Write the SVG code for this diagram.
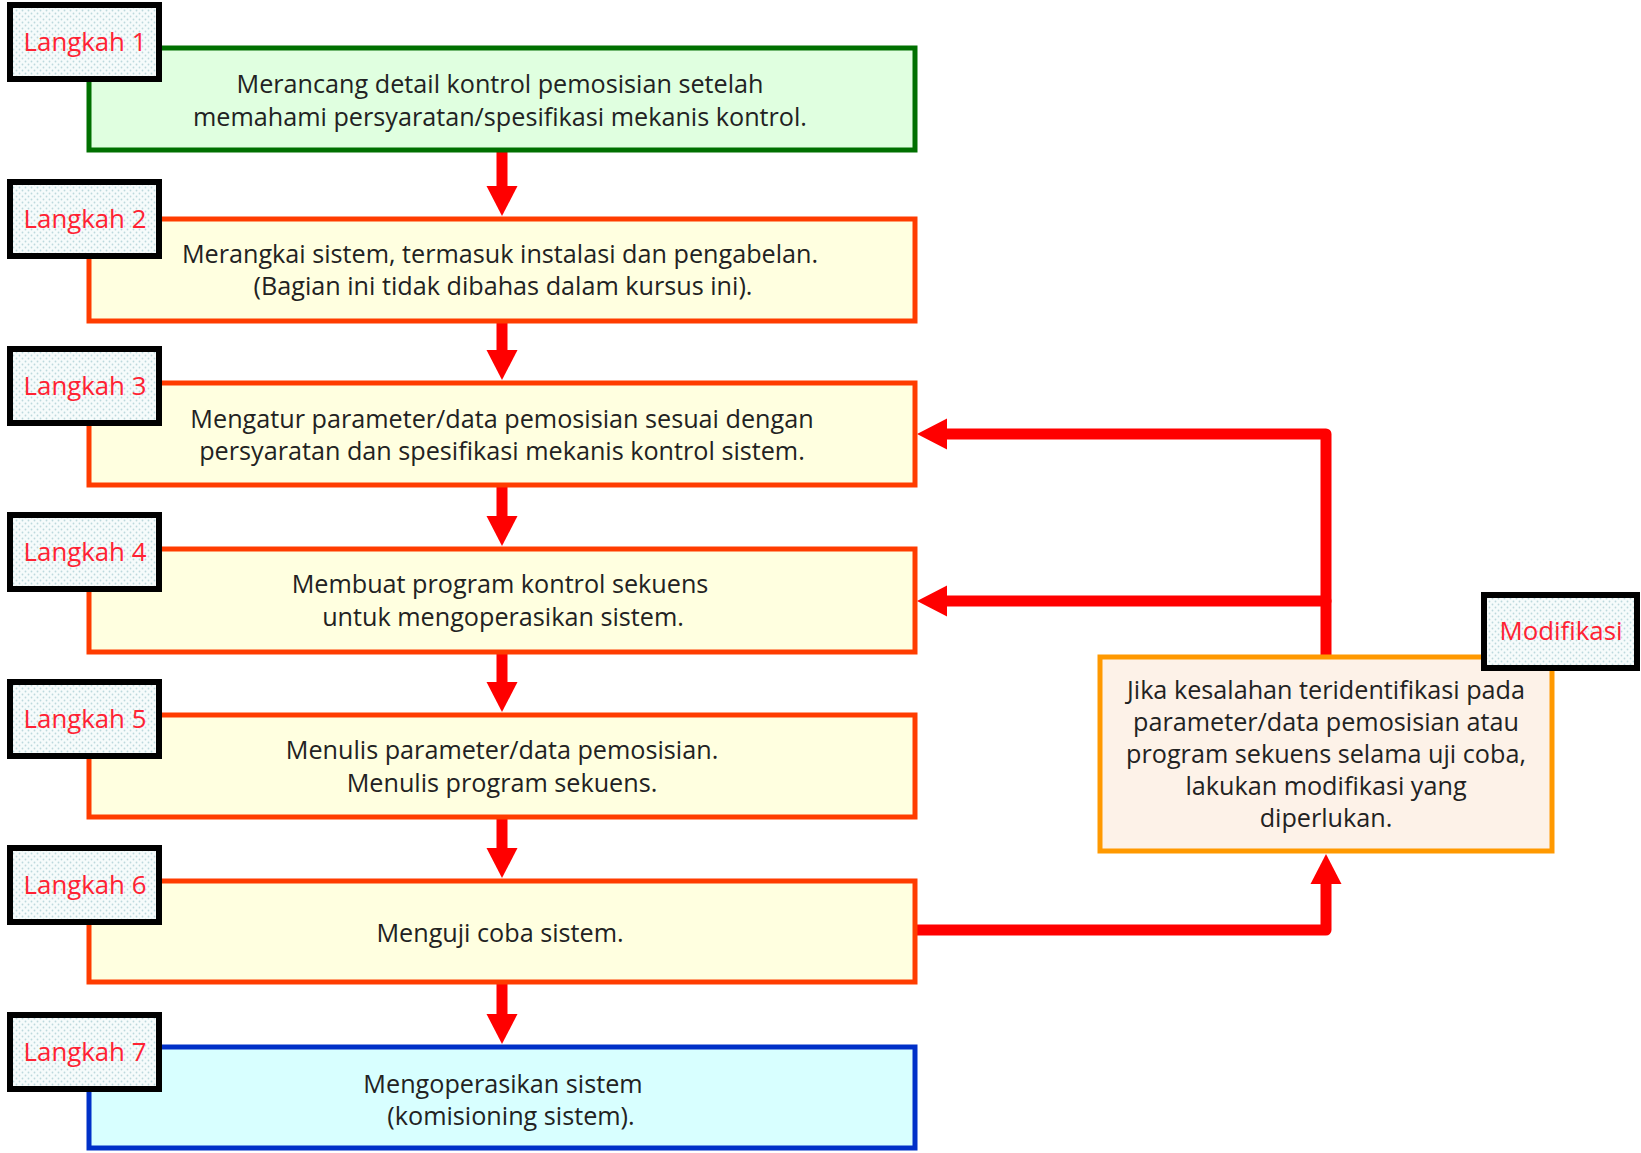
<svg xmlns="http://www.w3.org/2000/svg" width="1641" height="1153" viewBox="0 0 1641 1153">
<style>
  .box { stroke-width: 5; }
  .step { fill: #ffffe0; stroke: #ff3c00; }
  .first { fill: #e0ffe0; stroke: #007000; }
  .last { fill: #d8ffff; stroke: #0030c8; }
  .mod { fill: #fdf2e8; stroke: #ff9900; stroke-width: 5; }
  .tag { fill: url(#dots); stroke: #000; stroke-width: 6; }
  .tagtxt { font-family: "Open Sans", "Noto Sans", sans-serif; font-size: 25.8px; fill: #ff2233; text-anchor: middle; }
  .txt { font-family: "Open Sans", "Noto Sans", sans-serif; font-size: 25.2px; fill: #222; text-anchor: middle; }
  .conn { fill: none; stroke: #ff0000; stroke-width: 11; stroke-linecap: round; stroke-linejoin: round; marker-end: url(#ah); }
</style>
<defs>
  <pattern id="dots" width="6" height="6" patternUnits="userSpaceOnUse">
    <rect width="6" height="6" fill="#f6fbfb"/>
    <circle cx="1.5" cy="1.5" r="0.9" fill="#bcd9dd"/>
    <circle cx="4.5" cy="4.5" r="0.9" fill="#bcd9dd"/>
  </pattern>
  <marker id="ah" markerUnits="userSpaceOnUse" markerWidth="31" markerHeight="32" refX="0" refY="16" orient="auto">
    <path d="M0,0.5 L30,16 L0,31.5 Z" fill="#ff0000"/>
  </marker>
</defs>

<g id="connectors">
  <path class="conn" d="M502,152 V186"/>
  <path class="conn" d="M502,323 V350"/>
  <path class="conn" d="M502,487 V516"/>
  <path class="conn" d="M502,654 V682"/>
  <path class="conn" d="M502,819 V848"/>
  <path class="conn" d="M502,984 V1014"/>
  <path class="conn" d="M915,930 H1326 V884"/>
  <path class="conn" d="M1326,655 V434 H947"/>
  <path class="conn" d="M1326,601 H947"/>
</g>

<g id="step1">
  <rect class="box first" x="89" y="48" width="826" height="102"/>
  <text class="txt" x="500" y="93">Merancang detail kontrol pemosisian setelah</text>
  <text class="txt" x="500" y="126">memahami persyaratan/spesifikasi mekanis kontrol.</text>
  <rect class="tag" x="10" y="5" width="149" height="74"/>
  <text class="tagtxt" x="85" y="51">Langkah 1</text>
</g>

<g id="step2">
  <rect class="box step" x="89" y="219" width="826" height="102"/>
  <text class="txt" x="500" y="263">Merangkai sistem, termasuk instalasi dan pengabelan.</text>
  <text class="txt" x="503" y="295">(Bagian ini tidak dibahas dalam kursus ini).</text>
  <rect class="tag" x="10" y="182" width="149" height="74"/>
  <text class="tagtxt" x="85" y="228">Langkah 2</text>
</g>

<g id="step3">
  <rect class="box step" x="89" y="383" width="826" height="102"/>
  <text class="txt" x="502" y="428">Mengatur parameter/data pemosisian sesuai dengan</text>
  <text class="txt" x="502" y="460">persyaratan dan spesifikasi mekanis kontrol sistem.</text>
  <rect class="tag" x="10" y="349" width="149" height="74"/>
  <text class="tagtxt" x="85" y="395">Langkah 3</text>
</g>

<g id="step4">
  <rect class="box step" x="89" y="549" width="826" height="103"/>
  <text class="txt" x="500" y="593">Membuat program kontrol sekuens</text>
  <text class="txt" x="503" y="626">untuk mengoperasikan sistem.</text>
  <rect class="tag" x="10" y="515" width="149" height="74"/>
  <text class="tagtxt" x="85" y="561">Langkah 4</text>
</g>

<g id="step5">
  <rect class="box step" x="89" y="715" width="826" height="102"/>
  <text class="txt" x="502" y="759">Menulis parameter/data pemosisian.</text>
  <text class="txt" x="502" y="792">Menulis program sekuens.</text>
  <rect class="tag" x="10" y="682" width="149" height="74"/>
  <text class="tagtxt" x="85" y="728">Langkah 5</text>
</g>

<g id="step6">
  <rect class="box step" x="89" y="881" width="826" height="101"/>
  <text class="txt" x="500" y="942">Menguji coba sistem.</text>
  <rect class="tag" x="10" y="848" width="149" height="74"/>
  <text class="tagtxt" x="85" y="894">Langkah 6</text>
</g>

<g id="step7">
  <rect class="box last" x="89" y="1047" width="826" height="101"/>
  <text class="txt" x="503" y="1093">Mengoperasikan sistem</text>
  <text class="txt" x="511" y="1125">(komisioning sistem).</text>
  <rect class="tag" x="10" y="1015" width="149" height="74"/>
  <text class="tagtxt" x="85" y="1061">Langkah 7</text>
</g>

<g id="modifikasi">
  <rect class="mod" x="1100" y="657" width="452" height="194"/>
  <text class="txt" x="1326" y="699">Jika kesalahan teridentifikasi pada</text>
  <text class="txt" x="1326" y="731">parameter/data pemosisian atau</text>
  <text class="txt" x="1326" y="763">program sekuens selama uji coba,</text>
  <text class="txt" x="1326" y="795">lakukan modifikasi yang</text>
  <text class="txt" x="1326" y="827">diperlukan.</text>
  <rect class="tag" x="1484" y="595" width="153" height="73"/>
  <text class="tagtxt" x="1561" y="640">Modifikasi</text>
</g>
</svg>
